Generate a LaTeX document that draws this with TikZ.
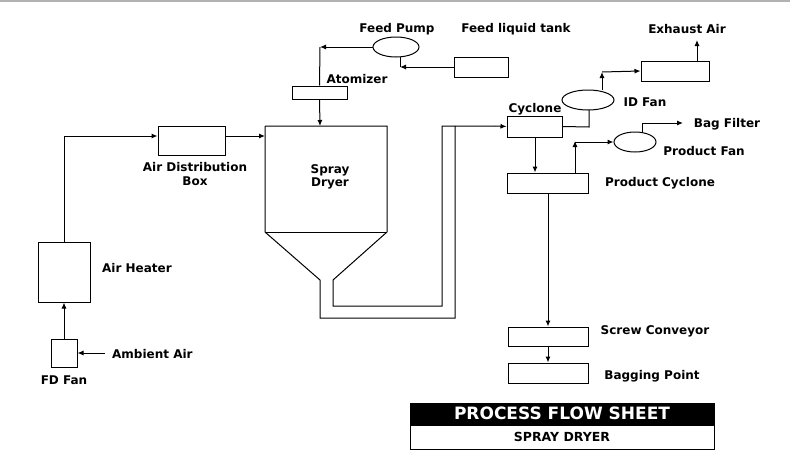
\documentclass[tikz,border=0pt]{standalone}
\usepackage{fontspec}
\setmainfont{DejaVu Sans}
\usetikzlibrary{shapes.geometric,arrows.meta}
\begin{document}
\begin{tikzpicture}[x=1pt,y=-1pt,
  box/.style={draw,line width=1pt,inner sep=0pt},
  fan/.style={draw,ellipse,line width=1pt,inner sep=0pt},
  lbl/.style={font=\bfseries\fontsize{12}{13.5}\selectfont,inner sep=0pt},
  ln/.style={line width=1pt},
  ar/.style={ln,-{Latex[length=6pt,width=5pt]}}]
\useasboundingbox (0,0) rectangle (790,458);
\draw[gray!60,line width=1.5pt] (0,1) -- (790,1);
% boxes
\node[box,minimum width=26pt,minimum height=28pt] (fd) at (64,353) {};
\node[box,minimum width=52pt,minimum height=60pt] (ah) at (64,272) {};
\node[box,minimum width=67pt,minimum height=29pt] (adb) at (191.5,140.5) {};
\node[box,minimum width=55pt,minimum height=13pt] (atom) at (319.5,92.5) {};
\node[fan,minimum width=46pt,minimum height=20pt] (fp) at (396,47) {};
\node[box,minimum width=54pt,minimum height=20pt] (ft) at (481,67) {};
\node[box,minimum width=55pt,minimum height=21pt] (cy) at (534.5,126.5) {};
\node[fan,minimum width=52pt,minimum height=20pt] (idf) at (588,100) {};
\node[box,minimum width=68pt,minimum height=20pt] (ex) at (675,71) {};
\node[box,minimum width=81pt,minimum height=20pt] (pc) at (547.5,183) {};
\node[fan,minimum width=42pt,minimum height=20pt] (pf) at (635,142) {};
\node[box,minimum width=80pt,minimum height=19pt] (sc) at (548,336.5) {};
\node[box,minimum width=80pt,minimum height=20pt] (bp) at (548,373) {};
% dryer
\coordinate (dtl) at (265,126); \coordinate (dtr) at (387,126);
\draw[ln] (dtl) -- (265,232) -- (320,280) -- (320,318) -- (455,318) -- (455,126) -- (495,126);
\draw[ln] (dtl) -- (dtr) -- (387,232) -- (333,280) -- (333,306) -- (442,306) -- (442,126) -- (455,126);
\draw[ln] (265,232) -- (387,232);
\node[lbl,align=center] (sd) at (330,177) {Spray\\Dryer};
% labels
\node[lbl] at (64,380) {FD Fan};
\node[lbl,anchor=west] (amb) at (112,354) {Ambient Air};
\node[lbl,anchor=west] at (102,268) {Air Heater};
\node[lbl,align=center] at (195,174) {Air Distribution\\Box};
\node[lbl] at (357,79) {Atomizer};
\node[lbl] at (397,29) {Feed Pump};
\node[lbl] at (516,29) {Feed liquid tank};
\node[lbl] at (535,109) {Cyclone};
\node[lbl] at (645,102) {ID Fan};
\node[lbl] at (687,29) {Exhaust Air};
\node[lbl] at (727,124) {Bag Filter};
\node[lbl] at (704,151) {Product Fan};
\node[lbl] at (660,183) {Product Cyclone};
\node[lbl] at (655,331) {Screw Conveyor};
\node[lbl] at (652,376) {Bagging Point};
% connectors
\draw[ar] (105,353) -- (fd.east);
\draw[ar] (fd.north) -- (ah.south);
\draw[ar] (ah.north) -- (64,136) -- (adb.west |- 0,136);
\draw[ar] (adb.east |- 0,136) -- (dtl |- 0,136);
\draw[ar] (fp.west) -- (320,47);
\draw[ln] (320,47) -- (atom.north);
\draw[ar] (atom.south) -- (320,126);
\draw[ln] (400,57) -- (400,67);
\draw[ar] (ft.west) -- (400,67);
\draw[ar] (495,126) -- (cy.west);
\draw[ln] (cy.east) -- (589,127) -- (589,110);
\draw[ar] (602,90) -- (602,72);
\draw[ar] (602,72) -- (ex.west);
\draw[ar] (697,61) -- (697,40);
\draw[ar] (535,137) -- (pc.north -| 535,0);
\draw[ar] (575,173) -- (575,141);
\draw[ar] (575,142) -- (pf.west);
\draw[ln] (642,132) -- (642,123);
\draw[ar] (642,123) -- (683,123);
\draw[ar] (548,193) -- (sc.north);
\draw[ar] (sc.south) -- (bp.north);
% title
\node[draw,fill=black,line width=1pt,minimum width=304pt,minimum height=21pt,inner sep=0pt,text=white,font=\bfseries\fontsize{17}{18}\selectfont] (t1) at (562,413.5) {PROCESS FLOW SHEET};
\node[draw,line width=1pt,minimum width=304pt,minimum height=24pt,inner sep=0pt,font=\bfseries\fontsize{12.5}{13}\selectfont,anchor=north] (t2) at (t1.south) {SPRAY DRYER};
\end{tikzpicture}
\end{document}
